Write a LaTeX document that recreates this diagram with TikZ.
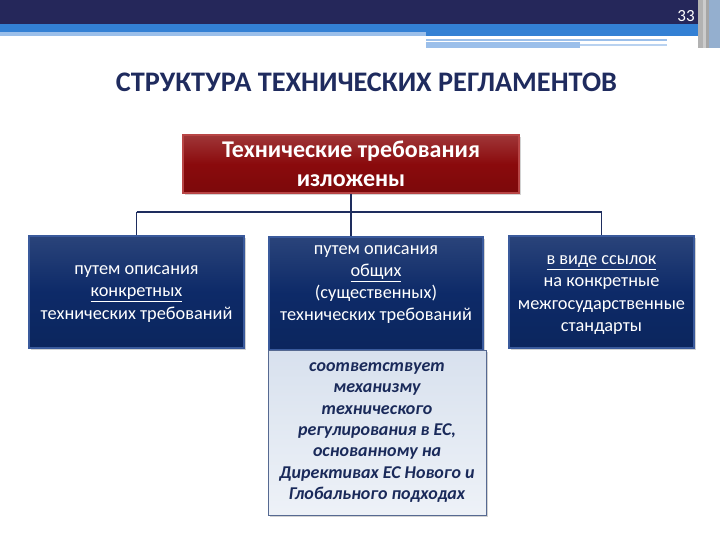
\documentclass[tikz,border=0pt]{standalone}
\usepackage{fontspec}
\setmainfont{Carlito}
\usetikzlibrary{shadows,calc}
\definecolor{navy}{HTML}{25275A}
\definecolor{bandblue}{HTML}{3380D4}
\definecolor{lightband}{HTML}{9BBFEA}
\definecolor{titlecol}{HTML}{1F2B5E}
\definecolor{linecol}{HTML}{1E2D5E}
\definecolor{boxblue}{HTML}{0D2A68}
\definecolor{boxblueedge}{HTML}{3A5A9C}
\definecolor{redbox}{HTML}{8A0A0C}
\definecolor{rededge}{HTML}{B84545}
\definecolor{palebox}{HTML}{D8E1EE}
\definecolor{paletext}{HTML}{1A2A5A}
\begin{document}
\begin{tikzpicture}[x=1pt,y=-1pt,
  bluebox/.style={draw=boxblueedge,line width=1.4pt,top color=boxblue!88!white,bottom color=boxblue!90!black,middle color=boxblue,
    drop shadow={shadow xshift=2pt,shadow yshift=-2pt,opacity=0.35},inner sep=0pt},
  bluetext/.style={text=white,font=\fontsize{18.3}{22.3}\selectfont,align=center,inner sep=0pt},
  redstyle/.style={draw=rededge,line width=1.4pt,top color=redbox!82!white,bottom color=redbox!90!black,middle color=redbox,
    drop shadow={shadow xshift=2pt,shadow yshift=-2pt,opacity=0.35},
    text=white,font=\bfseries\fontsize{24}{29.5}\selectfont,align=center,inner sep=0pt},
  palestyle/.style={draw=boxblueedge!60!gray,line width=0.8pt,top color=palebox,bottom color=palebox!45!white,
    drop shadow={shadow xshift=2pt,shadow yshift=-2pt,opacity=0.35},
    text=paletext,font=\bfseries\itshape\fontsize{18}{21.3}\selectfont,align=center,inner sep=0pt},
  conn/.style={draw=linecol,line width=1.6pt}]
\useasboundingbox (0,0) rectangle (720,540);
\fill[white] (0,0) rectangle (720,540);
% top decoration
\fill[navy] (0,0) rectangle (720,24);
\fill[lightband] (0,32) rectangle (426,36);
\fill[bandblue] (0,24) rectangle (700,32);
\fill[bandblue] (426,32) rectangle (700,36);
\fill[lightband] (426,39.5) rectangle (667,41.5);
\fill[lightband] (426,42.5) rectangle (580,48);
\fill[lightband!70!white] (580,44) rectangle (667,46);
\fill[gray!60] (698,0) rectangle (703,48);
\fill[gray!40] (703,0) rectangle (706,48);
\fill[gray!70] (706,0) rectangle (709,48);
\fill[gray!25!lightband] (709,0) rectangle (720,48);
\node[text=white,font=\fontsize{17}{17}\selectfont,inner sep=0pt] (pg) at (686,16) {33};
% title
\node[text=titlecol,font=\bfseries\fontsize{28.3}{30}\selectfont,inner sep=0pt] (title) at (366.5,82) {СТРУКТУРА ТЕХНИЧЕСКИХ РЕГЛАМЕНТОВ};
% boxes
\node[redstyle,minimum width=336pt,minimum height=58pt] (red) at (351,164) {Технические требования\\изложены};
\node[bluebox,minimum width=215pt,minimum height=112pt] (left) at (136.5,292) {};
\node[bluetext] (lefttext) at (136.5,294) {путем описания\\\underline{конкретных}\\технических требований};
\node[bluebox,minimum width=214pt,minimum height=113pt] (mid) at (376,293.5) {};
\node[bluetext] (midtext) at (376,284.5) {путем описания\\\underline{общих}\\(существенных)\\технических требований};
\node[bluebox,minimum width=185pt,minimum height=112pt] (right) at (601.5,292) {};
\node[bluetext] (righttext) at (601.5,295) {\underline{в виде ссылок}\\на конкретные\\межгосударственные\\стандарты};
\node[palestyle,minimum width=218pt,minimum height=165pt] (pale) at (377,432.5) {соответствует\\механизму\\технического\\регулирования в ЕС,\\основанному на\\Директивах ЕС Нового и\\Глобального подходах};
% connectors
\coordinate (j) at (red.south |- 0,212);
\coordinate (jl) at (left.north |- 0,212);
\coordinate (jr) at (right.north |- 0,212);
\draw[conn] (red.south) -- (j);
\draw[conn] (jl) -- (jr);
\draw[conn] (jl) -- (left.north);
\draw[conn] (jr) -- (right.north);
\draw[conn] (j) -- (j |- mid.north);
\end{tikzpicture}
\end{document}
